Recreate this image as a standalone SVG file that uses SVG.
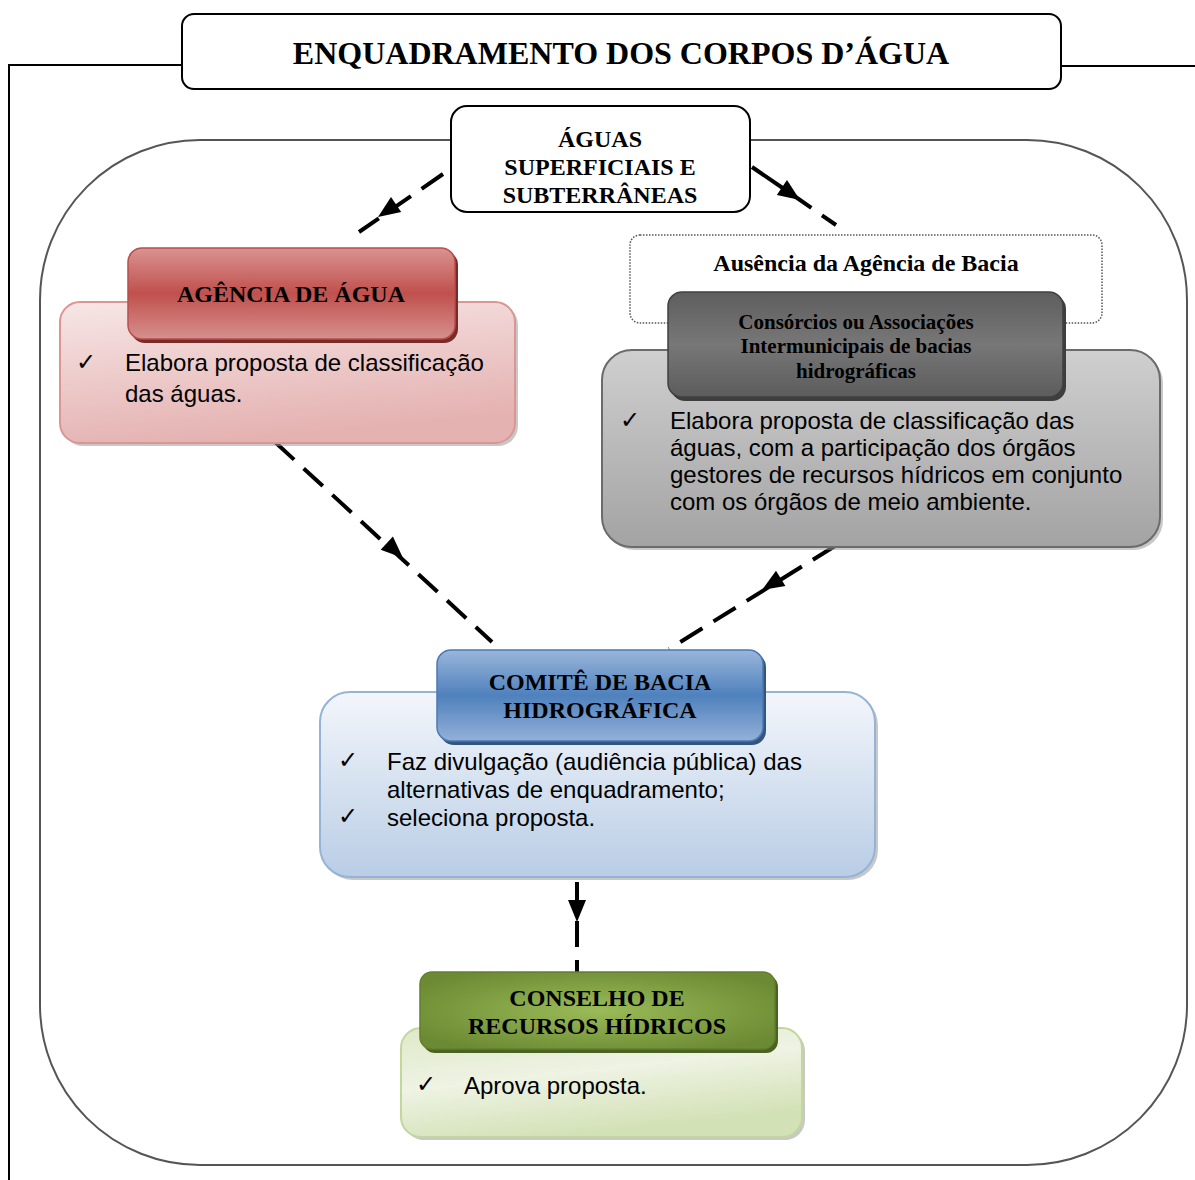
<svg xmlns="http://www.w3.org/2000/svg" width="1195" height="1180" viewBox="0 0 1195 1180">
<defs>
<linearGradient id="gRedH" x1="0" y1="0" x2="0" y2="1"><stop offset="0" stop-color="#d99391"/><stop offset="0.5" stop-color="#c0504d"/><stop offset="1" stop-color="#d6908e"/></linearGradient>
<linearGradient id="gRedB" x1="0" y1="0" x2="0.3" y2="1"><stop offset="0" stop-color="#f7e6e6"/><stop offset="1" stop-color="#e4b2b1"/></linearGradient>
<linearGradient id="gGrayH" x1="0" y1="0" x2="0" y2="1"><stop offset="0" stop-color="#5e5e5e"/><stop offset="0.5" stop-color="#777777"/><stop offset="1" stop-color="#5c5c5c"/></linearGradient>
<linearGradient id="gGrayB" x1="0" y1="0" x2="0" y2="1"><stop offset="0" stop-color="#cfcfcf"/><stop offset="1" stop-color="#a3a3a3"/></linearGradient>
<linearGradient id="gBlueH" x1="0" y1="0" x2="0" y2="1"><stop offset="0" stop-color="#9ab6da"/><stop offset="0.5" stop-color="#4f81bd"/><stop offset="1" stop-color="#93b0d8"/></linearGradient>
<linearGradient id="gBlueB" x1="0" y1="0" x2="0" y2="1"><stop offset="0" stop-color="#f3f6fb"/><stop offset="1" stop-color="#b9cde5"/></linearGradient>
<radialGradient id="gGreenH" cx="0.5" cy="0.5" r="0.6"><stop offset="0" stop-color="#9bbb59"/><stop offset="1" stop-color="#6b8a33"/></radialGradient>
<linearGradient id="gGreenB" x1="0" y1="0" x2="0.4" y2="1"><stop offset="0" stop-color="#dfe9c9"/><stop offset="0.5" stop-color="#eef3e3"/><stop offset="1" stop-color="#d3e1b6"/></linearGradient>
</defs>
<style>
.frame{fill:none;stroke:#000;stroke-width:2}
.big{fill:none;stroke:#555;stroke-width:2}
.hdr{font-family:"Liberation Serif",serif;font-weight:bold;fill:#000;text-anchor:middle}
.body{font-family:"Liberation Sans",Arial,sans-serif;font-size:24px;fill:#000}
.chk{font-family:"DejaVu Sans",sans-serif;font-size:24px;fill:#000}
.sh{fill:#9a9a9a;opacity:0.55}
.dash{fill:none;stroke:#000;stroke-width:4;stroke-dasharray:26 13}
.ah{fill:#000}
</style>
<g id="frame">
<polyline class="frame" points="9,1180 9,65 182,65"/>
<line class="frame" x1="1061" y1="66" x2="1195" y2="66"/>
<rect class="big" x="40" y="140" width="1147" height="1025" rx="160" ry="160"/>
</g>
<g id="title">
<rect x="182" y="14" width="879" height="75" rx="12" fill="#fff" stroke="#000" stroke-width="2"/>
<text class="hdr" x="621" y="64" font-size="32">ENQUADRAMENTO DOS CORPOS D’ÁGUA</text>
</g>
<g id="connectors">
<line class="dash" x1="443" y1="174" x2="359" y2="232"/>
<polygon class="ah" points="378,217 401.2,211.9 391,197.1"/>
<line x1="752" y1="167" x2="790" y2="193" stroke="#000" stroke-width="4"/>
<line class="dash" x1="790" y1="193" x2="836" y2="225"/>
<polygon class="ah" points="800,200 776.8,194.9 787,180.1"/>
<line class="dash" x1="275" y1="442" x2="492" y2="642"/>
<polygon class="ah" points="403,558 380.7,549.7 392.9,536.5"/>
<line class="dash" x1="835" y1="546" x2="669" y2="649"/>
<polygon class="ah" points="762,590 785.4,586.1 776,570.7"/>
<line class="dash" x1="577" y1="882" x2="577" y2="972" stroke-dasharray="22 10"/>
<polygon class="ah" points="577,922 568,900 586,900"/>
</g>
<g id="aguas">
<rect x="451" y="106" width="299" height="106" rx="16" fill="#fff" stroke="#000" stroke-width="2"/>
<text class="hdr" x="600" y="147" font-size="24">ÁGUAS</text>
<text class="hdr" x="600" y="175" font-size="24">SUPERFICIAIS E</text>
<text class="hdr" x="600" y="203" font-size="24">SUBTERRÂNEAS</text>
</g>
<g id="agencia">
<rect class="sh" x="63" y="305" width="455" height="141" rx="20"/>
<rect x="60" y="302" width="455" height="141" rx="20" fill="url(#gRedB)" stroke="#d99694" stroke-width="2"/>
<rect x="131" y="251" width="327" height="92" rx="14" fill="#7a2b29"/>
<rect x="128" y="248" width="327" height="91" rx="14" fill="url(#gRedH)" stroke="#b5504d" stroke-width="1.5"/>
<text class="hdr" x="291" y="302" font-size="24">AGÊNCIA DE ÁGUA</text>
<text class="chk" x="76" y="370">✓</text>
<text class="body" x="125" y="371">Elabora proposta de classificação</text>
<text class="body" x="125" y="402">das águas.</text>
</g>
<g id="ausencia">
<rect x="630" y="235" width="472" height="88" rx="10" fill="#fff" stroke="#555" stroke-width="1.5" stroke-dasharray="1.5 1.5"/>
<text class="hdr" x="866" y="271" font-size="24">Ausência da Agência de Bacia</text>
</g>
<g id="consorcios">
<rect class="sh" x="605" y="353" width="558" height="197" rx="30"/>
<rect x="602" y="350" width="558" height="197" rx="30" fill="url(#gGrayB)" stroke="#6b6b6b" stroke-width="2"/>
<rect x="671" y="295" width="395" height="106" rx="14" fill="#3e3e3e"/>
<rect x="668" y="292" width="395" height="105" rx="14" fill="url(#gGrayH)" stroke="#404040" stroke-width="1.5"/>
<text class="hdr" x="856" y="329" font-size="21">Consórcios ou Associações</text>
<text class="hdr" x="856" y="353" font-size="21">Intermunicipais de bacias</text>
<text class="hdr" x="856" y="378" font-size="21">hidrográficas</text>
<text class="chk" x="620" y="428">✓</text>
<text class="body" x="670" y="429">Elabora proposta de classificação das</text>
<text class="body" x="670" y="456">águas, com a participação dos órgãos</text>
<text class="body" x="670" y="483">gestores de recursos hídricos em conjunto</text>
<text class="body" x="670" y="510">com os órgãos de meio ambiente.</text>
</g>
<g id="comite">
<rect class="sh" x="323" y="695" width="555" height="185" rx="30"/>
<rect x="320" y="692" width="555" height="185" rx="30" fill="url(#gBlueB)" stroke="#95b3d7" stroke-width="2"/>
<rect x="440" y="653" width="326" height="92" rx="14" fill="#35557f"/>
<rect x="437" y="650" width="326" height="91" rx="14" fill="url(#gBlueH)" stroke="#4a7ab3" stroke-width="1.5"/>
<text class="hdr" x="600" y="690" font-size="24">COMITÊ DE BACIA</text>
<text class="hdr" x="600" y="718" font-size="24">HIDROGRÁFICA</text>
<text class="chk" x="338" y="768">✓</text>
<text class="body" x="387" y="770">Faz divulgação (audiência pública) das</text>
<text class="body" x="387" y="798">alternativas de enquadramento;</text>
<text class="chk" x="338" y="824">✓</text>
<text class="body" x="387" y="826">seleciona proposta.</text>
</g>
<g id="conselho">
<rect class="sh" x="404" y="1031" width="401" height="109" rx="20"/>
<rect x="401" y="1028" width="401" height="109" rx="20" fill="url(#gGreenB)" stroke="#c3d69b" stroke-width="2"/>
<rect x="423" y="975" width="355" height="78" rx="12" fill="#4b6224"/>
<rect x="420" y="972" width="355" height="77" rx="12" fill="url(#gGreenH)" stroke="#62802c" stroke-width="1.5"/>
<text class="hdr" x="597" y="1006" font-size="24">CONSELHO DE</text>
<text class="hdr" x="597" y="1034" font-size="24">RECURSOS HÍDRICOS</text>
<text class="chk" x="416" y="1092">✓</text>
<text class="body" x="464" y="1094">Aprova proposta.</text>
</g>
</svg>
